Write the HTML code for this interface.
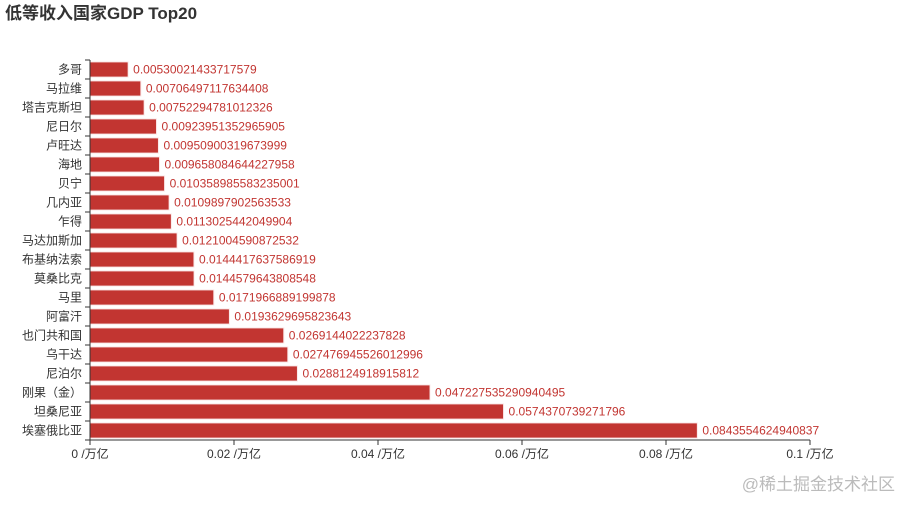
<!DOCTYPE html>
<html><head><meta charset="utf-8"><style>
body{margin:0;background:#fff;}
svg text{font-family:"Liberation Sans","Noto Sans CJK SC",sans-serif;}
</style></head><body>
<svg id="chart" width="900" height="500">
<text x="5" y="19" font-size="17" font-weight="bold" fill="#333">低等收入国家GDP Top20</text>
<g id="plot"></g>
<text x="895" y="490" font-size="17" fill="#bbb" text-anchor="end">@稀土掘金技术社区</text>
</svg>
<script>
const categories=["多哥","马拉维","塔吉克斯坦","尼日尔","卢旺达","海地","贝宁","几内亚","乍得","马达加斯加","布基纳法索","莫桑比克","马里","阿富汗","也门共和国","乌干达","尼泊尔","刚果（金）","坦桑尼亚","埃塞俄比亚"];
const values=[0.00530021433717579,0.00706497117634408,0.00752294781012326,0.00923951352965905,0.00950900319673999,0.009658084644227958,0.010358985583235001,0.0109897902563533,0.0113025442049904,0.0121004590872532,0.0144417637586919,0.0144579643808548,0.0171966889199878,0.0193629695823643,0.0269144022237828,0.027476945526012996,0.0288124918915812,0.047227535290940495,0.0574370739271796,0.0843554624940837];
const labels=["0.00530021433717579","0.00706497117634408","0.00752294781012326","0.00923951352965905","0.00950900319673999","0.009658084644227958","0.010358985583235001","0.0109897902563533","0.0113025442049904","0.0121004590872532","0.0144417637586919","0.0144579643808548","0.0171966889199878","0.0193629695823643","0.0269144022237828","0.027476945526012996","0.0288124918915812","0.047227535290940495","0.0574370739271796","0.0843554624940837"];
const xTicks=[0,0.02,0.04,0.06,0.08,0.1];
const xTickLabels=["0 /万亿","0.02 /万亿","0.04 /万亿","0.06 /万亿","0.08 /万亿","0.1 /万亿"];
const NS="http://www.w3.org/2000/svg";
const x0=90,x1=810,yTop=60,yBot=440,xMax=0.1;
const X=v=>x0+v/xMax*(x1-x0);
const band=(yBot-yTop)/categories.length;
const Y=i=>yTop+i*band;
const g=document.getElementById('plot');
function mk(t,a){const e=document.createElementNS(NS,t);for(const k in a)e.setAttribute(k,a[k]);g.appendChild(e);return e;}
categories.forEach((c,i)=>{
 const bh=band*0.8;
 const r=mk('rect',{x:x0,y:Y(i)+band*0.1,width:X(values[i])-x0,height:bh,fill:'#c23531',stroke:'#fbe9e9','stroke-width':1});
 
 
 const t=mk('text',{x:X(values[i])+5,y:Y(i)+band/2+4,'font-size':12,fill:'#c23531'});
 t.textContent=labels[i];
 
 
 const yl=mk('text',{x:x0-8,y:Y(i)+band/2+4,'font-size':12,fill:'#333','text-anchor':'end'});
 yl.textContent=c;
 
 
});
for(let i=0;i<=categories.length;i++){
 const tk=mk('line',{x1:x0-5,x2:x0,y1:Y(i),y2:Y(i),stroke:'#333'});
 
 
}
const ya=mk('line',{x1:x0,x2:x0,y1:yTop,y2:yBot,stroke:'#333'});


const xa=mk('line',{x1:x0,x2:x1,y1:yBot,y2:yBot,stroke:'#333'});


xTicks.forEach((v,i)=>{
 const tk=mk('line',{x1:X(v),x2:X(v),y1:yBot,y2:yBot+5,stroke:'#333'});
 
 
 const t=mk('text',{x:X(v),y:yBot+18,'font-size':12,fill:'#333','text-anchor':'middle'});
 t.textContent=xTickLabels[i];
 
 
});
</script>
</body></html>
